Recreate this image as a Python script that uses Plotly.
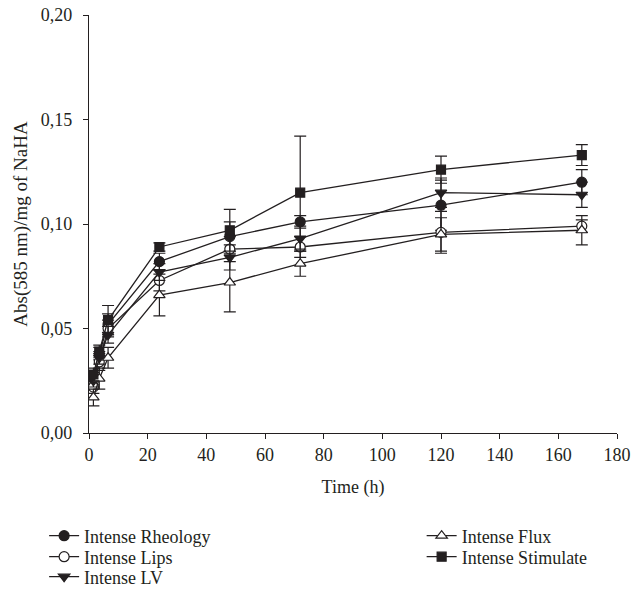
import plotly.graph_objects as go

time_h = [1.5, 3.5, 6.5, 24, 48, 72, 120, 168]

rheology = [0.026, 0.038, 0.052, 0.082, 0.094, 0.101, 0.109, 0.120]
lips = [0.022, 0.034, 0.050, 0.073, 0.088, 0.089, 0.096, 0.099]
lv = [0.025, 0.036, 0.047, 0.077, 0.084, 0.093, 0.115, 0.114]
flux = [0.017, 0.026, 0.036, 0.066, 0.072, 0.081, 0.095, 0.097]
stimulate = [0.028, 0.039, 0.054, 0.089, 0.097, 0.115, 0.126, 0.133]

rheology_err = [0.003, 0.003, 0.005, 0.004, 0.007, 0.003, 0.012, 0.006]
lips_err = [0.003, 0.004, 0.004, 0.005, 0.006, 0.005, 0.010, 0.003]
lv_err = [0.003, 0.003, 0.004, 0.004, 0.006, 0.006, 0.007, 0.006]
flux_err = [0.004, 0.005, 0.005, 0.010, 0.014, 0.006, 0.008, 0.007]
stimulate_err = [0.003, 0.003, 0.007, 0.002, 0.010, 0.027, 0.0065, 0.005]

x_ticks = [0, 20, 40, 60, 80, 100, 120, 140, 160, 180]
y_ticks = [0.0, 0.05, 0.10, 0.15, 0.20]
y_tick_labels = ["0,00", "0,05", "0,10", "0,15", "0,20"]

INK = "#231f20"
FONT = "Liberation Serif"
FS = 18

series = [
    ("Intense Rheology", rheology, rheology_err, "circle", INK),
    ("Intense Lips", lips, lips_err, "circle", "white"),
    ("Intense LV", lv, lv_err, "triangle-down", INK),
    ("Intense Flux", flux, flux_err, "triangle-up", "white"),
    ("Intense Stimulate", stimulate, stimulate_err, "square", INK),
]
# legend slots: (x, y) in paper coords, one legend per entry
legend_slots = [(-0.085, -0.2464), (-0.085, -0.2967), (-0.085, -0.3445),
                (0.630, -0.2464), (0.630, -0.2967)]

fig = go.Figure()
layout_legends = {}
for i, ((name, vals, errs, sym, fill), (lx, ly)) in enumerate(zip(series, legend_slots)):
    key = "legend" if i == 0 else f"legend{i + 1}"
    fig.add_trace(go.Scatter(
        x=time_h, y=vals, name=name, mode="lines+markers",
        line=dict(color=INK, width=1.3),
        marker=dict(symbol=sym, size=10 if sym != "square" else 9, color=fill,
                    line=dict(color=INK, width=1.2)),
        error_y=dict(type="data", array=errs, visible=True, color=INK,
                     thickness=1.2, width=6),
        legend=key,
    ))
    layout_legends[key] = dict(x=lx, y=ly, xanchor="left", yanchor="middle",
                               orientation="v",
                               font=dict(family=FONT, size=FS, color=INK),
                               bgcolor="rgba(0,0,0,0)")

fig.update_layout(
    width=633, height=597,
    margin=dict(l=89, r=16, t=15, b=164, autoexpand=False),
    paper_bgcolor="white", plot_bgcolor="white",
    font=dict(family=FONT, size=FS, color=INK),
    showlegend=True,
    **layout_legends,
)

fig.update_xaxes(
    range=[0, 180], tickvals=x_ticks, ticktext=[str(v) for v in x_ticks],
    showline=True, linecolor=INK, linewidth=1.2, showgrid=False, zeroline=False,
    ticks="outside", ticklen=5, tickcolor=INK, tickwidth=1.2,
    title=dict(text="Time (h)", font=dict(family=FONT, size=FS, color=INK), standoff=16),
    tickfont=dict(family=FONT, size=FS, color=INK),
)
fig.update_yaxes(
    range=[0, 0.20], tickvals=y_ticks, ticktext=y_tick_labels,
    showline=True, linecolor=INK, linewidth=1.2, showgrid=False, zeroline=False,
    ticks="outside", ticklen=5, tickcolor=INK, tickwidth=1.2, ticklabelstandoff=7,
    title=dict(text="Abs(585 nm)/mg of NaHA", font=dict(family=FONT, size=19, color=INK), standoff=8),
    tickfont=dict(family=FONT, size=FS, color=INK),
)

fig.write_html("out.html", post_script="document.body.style.margin='0';",
               config={"displayModeBar": False})
